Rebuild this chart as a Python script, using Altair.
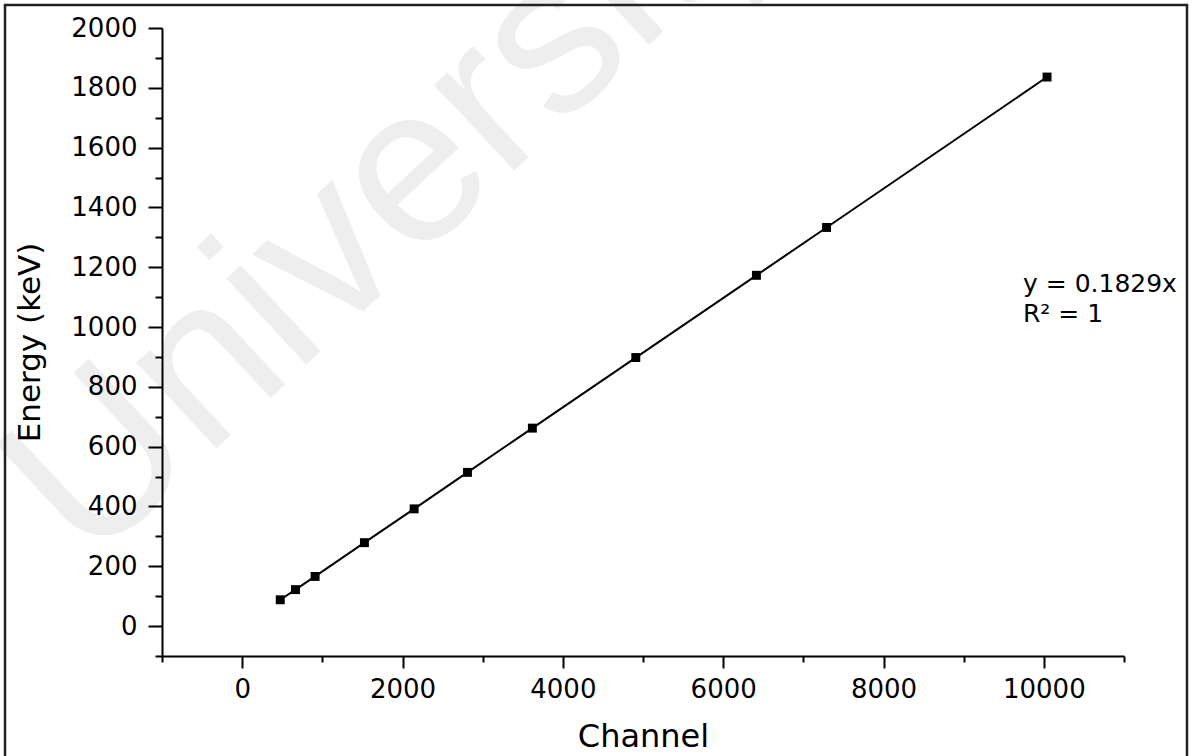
import altair as alt
import pandas as pd

# ---- data ----
channel = [475, 665, 910, 1525, 2145, 2810, 3620, 4910, 6415, 7290, 10040]
energy = [88, 122, 166, 279, 392, 514, 662, 898, 1173, 1333, 1836]
x_ticks = list(range(-1000, 11001, 1000))
y_major = list(range(0, 2001, 200))
y_minor = list(range(-100, 2001, 200))
fit_text = ["y = 0.1829x", "R² = 1"]
fit_pos = [9740, 1117]
watermark = "University of Malaya"

df = pd.DataFrame({"channel": channel, "energy": energy})

FONT = "DejaVu Sans"
W, H = 962, 628
PAD_L, PAD_T = 162, 28

xscale = alt.Scale(domain=[-1000, 11000], nice=False, zero=False)
yscale = alt.Scale(domain=[-100, 2000], nice=False, zero=False)

xaxis = alt.Axis(
    title="Channel",
    values=x_ticks,
    format="d",
    labelExpr="datum.value % 2000 == 0 ? datum.label : ''",
    tickSize={"condition": {"test": "datum.value % 2000 == 0", "value": 12}, "value": 6},
    labelPadding=8,
    labelFontSize=26,
    titleFontSize=32,
    titlePadding=19,
    labelOverlap=False,
    labelFlush=False,
    grid=False,
    zindex=1,
)
yaxis = alt.Axis(
    title="Energy (keV)",
    orient="left",
    values=y_major,
    format="d",
    tickSize=14,
    labelPadding=11,
    labelFontSize=26,
    titleFontSize=31,
    titlePadding=24,
    labelOverlap=False,
    labelFlush=False,
    grid=False,
    zindex=1,
)
yaxis_minor = alt.Axis(
    title=None,
    orient="left",
    values=y_minor,
    tickSize=7,
    labels=False,
    domain=False,
    grid=False,
    zindex=1,
)

wm = alt.Chart(pd.DataFrame({"t": [watermark]})).mark_text(
    align="left", baseline="alphabetic", angle=317, fontSize=222,
    font="Liberation Sans", color="#eeeeee",
).encode(x=alt.value(88 - PAD_L), y=alt.value(568 - PAD_T), text="t:N")

line = alt.Chart(df).mark_line(color="black", strokeWidth=2).encode(
    x=alt.X("channel:Q", scale=xscale, axis=xaxis),
    y=alt.Y("energy:Q", scale=yscale, axis=yaxis),
)
points = alt.Chart(df).mark_point(
    shape="square", filled=True, size=80, color="black", opacity=1
).encode(
    x=alt.X("channel:Q", scale=xscale, axis=xaxis),
    y=alt.Y("energy:Q", scale=yscale, axis=yaxis),
)
minor = alt.Chart(df).mark_point(opacity=0).encode(
    x=alt.X("channel:Q", scale=xscale, axis=xaxis),
    y=alt.Y("energy:Q", scale=yscale, axis=yaxis_minor),
)

note = alt.Chart(pd.DataFrame({"x": [fit_pos[0]], "y": [fit_pos[1]]})).mark_text(
    text=fit_text, align="left", baseline="alphabetic", fontSize=25,
    font=FONT, color="black", lineHeight=30,
).encode(x="x:Q", y="y:Q")

frame = alt.Chart(pd.DataFrame({"a": [0]})).mark_rect(
    fillOpacity=0, stroke="#222222", strokeWidth=2.5
).encode(
    x=alt.value(5 - PAD_L), x2=alt.value(1187 - PAD_L),
    y=alt.value(5 - PAD_T), y2=alt.value(770 - PAD_T),
)

chart = alt.layer(
    alt.layer(wm, line, points, note, frame), minor
).resolve_axis(y="independent").properties(
    width=W, height=H,
    autosize=alt.AutoSizeParams(type="none"),
    padding={"left": PAD_L, "top": PAD_T, "right": 1198 - PAD_L - W, "bottom": 756 - PAD_T - H},
    background="white",
).configure_view(stroke=None).configure_axis(
    domainColor="black", domainWidth=2, tickColor="black", tickWidth=2,
    labelColor="black", titleColor="black", labelFont=FONT, titleFont=FONT,
    titleFontWeight="normal",
)

chart.save("out.html", embed_options={"renderer": "svg", "actions": False})
